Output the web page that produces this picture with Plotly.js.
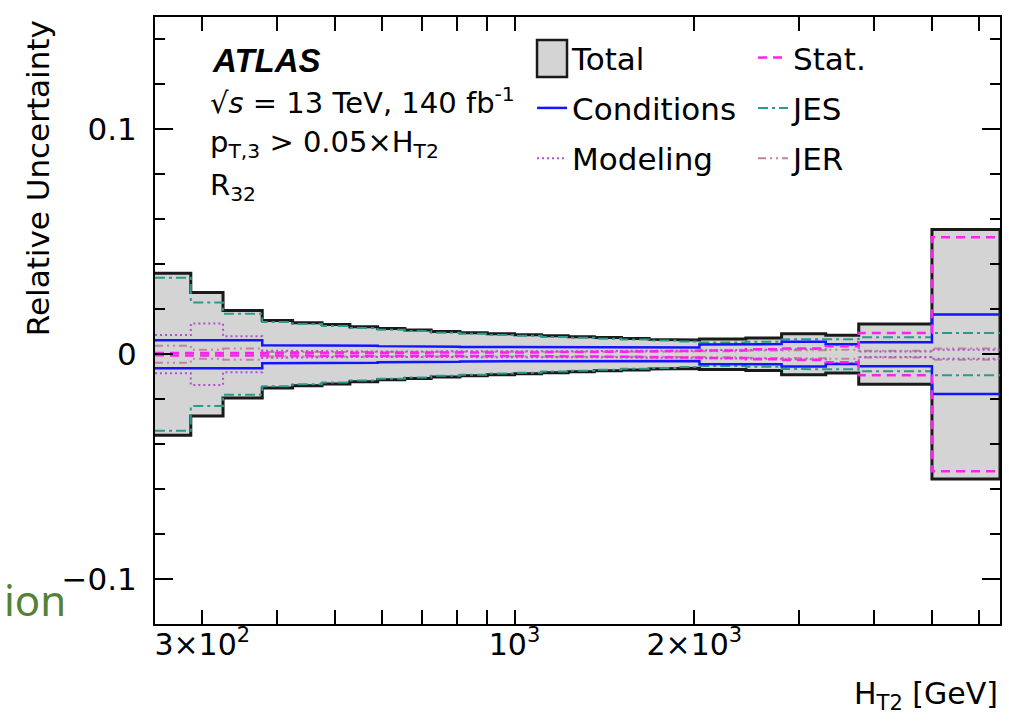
<!DOCTYPE html>
<html><head><meta charset="utf-8">
<script src="https://cdn.plot.ly/plotly-3.0.1.min.js"></script>
<style>html,body{margin:0;padding:0;background:#fff}#chart{width:1009px;height:726px}</style>
</head><body><div id="chart"></div>
<script>
// HT2 bin edges [GeV]
const binEdges = [250, 287, 325, 378, 425, 476, 530, 590, 655, 725, 810, 900, 1000, 1110, 1230, 1360, 1510, 1680, 1860, 2040, 2440, 2800, 3320, 3770, 5000, 6500];
// relative uncertainties per bin (symmetric, +/-)
const totalUnc = [0.0360, 0.0275, 0.0195, 0.0150, 0.0140, 0.0132, 0.0122, 0.0114, 0.0108, 0.0101, 0.0096, 0.0091, 0.0087, 0.0082, 0.0078, 0.0074, 0.0070, 0.0066, 0.0063, 0.0068, 0.0072, 0.0091, 0.0084, 0.0134, 0.0555];
const statUnc = [0.0005, 0.0005, 0.0005, 0.0005, 0.0005, 0.0005, 0.0006, 0.0006, 0.0006, 0.0007, 0.0007, 0.0008, 0.0008, 0.0009, 0.0010, 0.0011, 0.0012, 0.0013, 0.0015, 0.0017, 0.0022, 0.0026, 0.0036, 0.0094, 0.0520];
const conditionsUnc = [0.0062, 0.0062, 0.0062, 0.0040, 0.0040, 0.0040, 0.0038, 0.0036, 0.0034, 0.0033, 0.0032, 0.0031, 0.0030, 0.0030, 0.0029, 0.0029, 0.0029, 0.0029, 0.0030, 0.0043, 0.0045, 0.0055, 0.0044, 0.0053, 0.0177];
const jesUnc = [0.0340, 0.0230, 0.0180, 0.0143, 0.0134, 0.0126, 0.0117, 0.0109, 0.0103, 0.0096, 0.0091, 0.0086, 0.0082, 0.0077, 0.0073, 0.0069, 0.0065, 0.0061, 0.0057, 0.0052, 0.0056, 0.0066, 0.0067, 0.0076, 0.0094];
const modelingUnc = [0.0085, 0.0137, 0.0080, 0.0016, 0.0014, 0.0013, 0.0012, 0.0014, 0.0012, 0.0011, 0.0013, 0.0012, 0.0011, 0.0013, 0.0012, 0.0014, 0.0015, 0.0013, 0.0016, 0.0018, 0.0020, 0.0022, 0.0040, 0.0012, 0.0020];
const jerUnc = [0.0038, 0.0020, 0.0025, 0.0010, 0.0010, 0.0009, 0.0009, 0.0010, 0.0009, 0.0008, 0.0009, 0.0008, 0.0008, 0.0009, 0.0008, 0.0009, 0.0010, 0.0011, 0.0012, 0.0014, 0.0016, 0.0018, 0.0020, 0.0015, 0.0025];
const xTickVals = [300, 1000, 2000];
const xTickText = ['3×10<sup>2</sup>', '10<sup>3</sup>', '2×10<sup>3</sup>'];
const xMinorVals = [400, 500, 600, 700, 800, 900, 3000, 4000, 5000, 6000];

function steps(edges, vals, sign) {
  const x = [], y = [];
  for (let i = 0; i < vals.length; i++) {
    x.push(edges[i], edges[i + 1]);
    y.push(sign * vals[i], sign * vals[i]);
  }
  return {x, y};
}
function band(edges, vals) {
  const up = steps(edges, vals, 1), lo = steps(edges, vals, -1);
  return {x: up.x.concat(lo.x.slice().reverse()), y: up.y.concat(lo.y.slice().reverse())};
}
function pm(edges, vals) {
  const up = steps(edges, vals, 1), lo = steps(edges, vals, -1);
  return {x: up.x.concat([null], lo.x), y: up.y.concat([null], lo.y)};
}

const tb = band(binEdges, totalUnc);
const comp = (vals, name, color, dash, width, legend, rank) => {
  const d = pm(binEdges, vals);
  return {x: d.x, y: d.y, type: 'scatter', mode: 'lines', name: name, connectgaps: false,
    line: {color: color, dash: dash, width: width}, legend: legend, legendgroup: name, legendrank: rank, hoverinfo: 'skip'};
};
const traces = [
  {x: tb.x, y: tb.y, type: 'scatter', mode: 'lines', fill: 'toself', fillcolor: '#d4d4d4',
   line: {color: '#1a1a1a', width: 3}, name: 'Total', showlegend: false, hoverinfo: 'skip'},
  // legend entry for the Total band (its box key is drawn as a legend shape)
  {x: [null], y: [null], type: 'scatter', mode: 'lines', name: 'Total', line: {color: 'rgba(0,0,0,0)', width: 0},
   legend: 'legend', legendgroup: 'Total', legendrank: 1, hoverinfo: 'skip'},
  comp(jesUnc, 'JES', '#2a9a8a', '10px,4px,3px,4px', 2, 'legend2', 2),
  comp(jerUnc, 'JER', '#c0849a', '8px,4px,2px,4px,2px,4px', 2, 'legend2', 3),
  comp(modelingUnc, 'Modeling', '#b050d0', '2px,3px', 2, 'legend', 3),
  comp(conditionsUnc, 'Conditions', '#1414ff', 'solid', 2.5, 'legend', 2),
  comp(statUnc, 'Stat.', '#ff22ee', '9px,6px', 2.5, 'legend2', 1)
];

const F = 'DejaVu Sans, Liberation Sans, sans-serif';
const axisCommon = {showgrid: false, zeroline: false, showline: true, linecolor: '#000', linewidth: 2,
  ticks: 'inside', tickcolor: '#000', tickwidth: 2, mirror: 'allticks'};
const layout = {
  width: 1009, height: 726,
  margin: {l: 155, r: 9, t: 17, b: 102},
  paper_bgcolor: '#fff', plot_bgcolor: '#fff',
  font: {family: F, size: 31, color: '#000'},
  showlegend: true,
  legend: {x: 0.4462, xanchor: 'left', y: 0.977, yanchor: 'top', bgcolor: 'rgba(0,0,0,0)',
    traceorder: 'grouped', tracegroupgap: 7, font: {family: F, size: 31}},
  legend2: {x: 0.7077, xanchor: 'left', y: 0.977, yanchor: 'top', bgcolor: 'rgba(0,0,0,0)',
    traceorder: 'grouped', tracegroupgap: 7, font: {family: F, size: 31}},
  xaxis: Object.assign({}, axisCommon, {type: 'log', range: [Math.log10(250), Math.log10(6500)],
    tickmode: 'array', tickvals: xTickVals, ticktext: xTickText, ticklen: 14,
    tickfont: {family: F, size: 30}, ticklabelstandoff: -7,
    minor: {tickmode: 'array', tickvals: xMinorVals, ticklen: 14, ticks: 'inside', tickcolor: '#000', tickwidth: 2}}),
  xaxis2: Object.assign({}, axisCommon, {type: 'log', range: [Math.log10(250), Math.log10(6500)], overlaying: 'x',
    anchor: 'y', side: 'bottom', tickmode: 'array', tickvals: [1000], ticklen: 28, showticklabels: false}),
  yaxis: Object.assign({}, axisCommon, {range: [-0.12, 0.15], tickmode: 'linear', tick0: 0, dtick: 0.1, ticklen: 18,
    tickfont: {family: F, size: 31}, ticklabelstandoff: 10,
    minor: {dtick: 0.02, ticklen: 10, ticks: 'inside', tickcolor: '#000', tickwidth: 2}}),
  shapes: [
    {type: 'rect', xref: 'paper', yref: 'paper', x0: 0.4521, x1: 0.4876, y0: 0.9012, y1: 0.9621,
     fillcolor: '#d4d4d4', line: {color: '#1a1a1a', width: 2.5}, layer: 'above'}
  ],
  annotations: [
    {text: '<b><i>ATLAS</i></b>', xref: 'paper', yref: 'paper', x: 0.0651, y: 0.929, xanchor: 'left', yanchor: 'middle', showarrow: false, font: {family: 'Liberation Sans, Arial, sans-serif', size: 33}},
    {text: '√<i>s</i> = 13 TeV, 140 fb<sup>-1</sup>', xref: 'paper', yref: 'paper', x: 0.0627, y: 0.862, xanchor: 'left', yanchor: 'middle', showarrow: false, font: {family: F, size: 29}},
    {text: 'p<sub>T,3</sub> &gt; 0.05×H<sub>T2</sub>', xref: 'paper', yref: 'paper', x: 0.0627, y: 0.79, xanchor: 'left', yanchor: 'middle', showarrow: false, font: {family: F, size: 29}},
    {text: 'R<sub>32</sub>', xref: 'paper', yref: 'paper', x: 0.0627, y: 0.72, xanchor: 'left', yanchor: 'middle', showarrow: false, font: {family: F, size: 29}},
    {text: 'Relative Uncertainty', textangle: -90, xref: 'paper', yref: 'paper', x: -0.1385, y: 0.998, xanchor: 'center', yanchor: 'top', showarrow: false, font: {family: F, size: 31}},
    {text: 'H<sub>T2</sub> [GeV]', xref: 'paper', yref: 'paper', x: 1.0, y: -0.118, xanchor: 'right', yanchor: 'middle', showarrow: false, font: {family: F, size: 30}},
    {text: 'ion', xref: 'paper', yref: 'paper', x: -0.103, y: 0.04, xanchor: 'right', yanchor: 'middle', showarrow: false, font: {family: 'Noto Sans, Open Sans, sans-serif', size: 42, color: '#548235'}}
  ]
};
Plotly.newPlot('chart', traces, layout, {displayModeBar: false, staticPlot: true});
</script></body></html>
